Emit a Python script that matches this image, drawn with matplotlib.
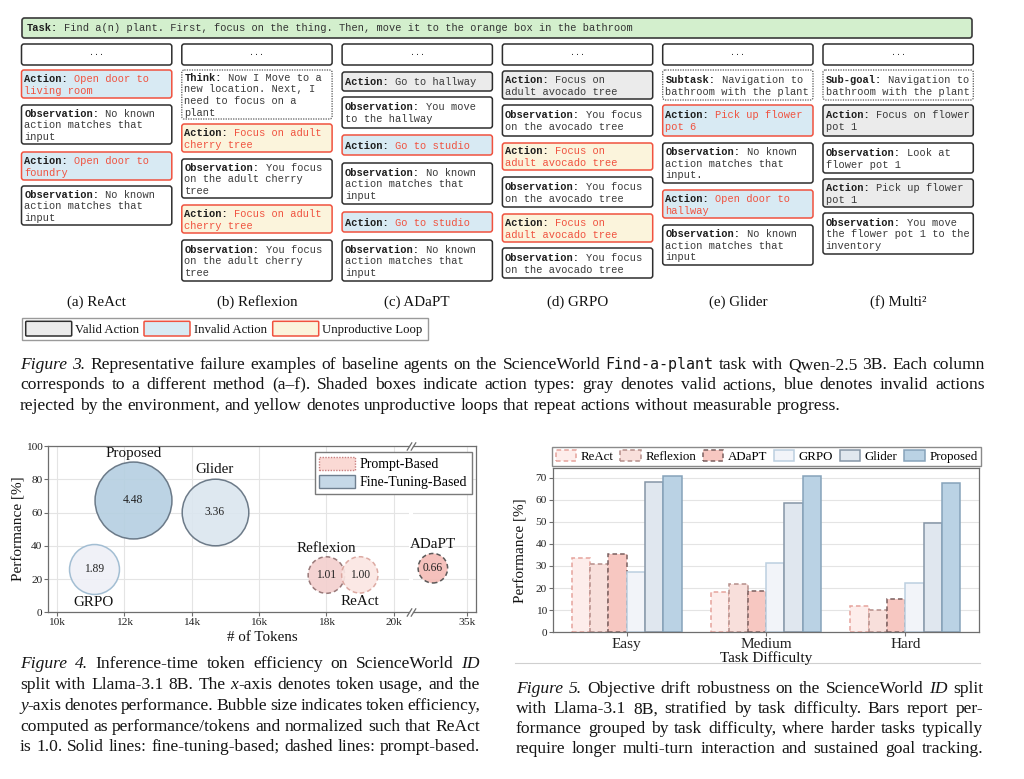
import re
import matplotlib
matplotlib.use('Agg')
import matplotlib.pyplot as plt
import matplotlib.transforms as mtransforms
from matplotlib.patches import FancyBboxPatch, Rectangle, Patch
import numpy as np

plt.rcParams['font.family'] = ['Liberation Serif', 'DejaVu Serif']
plt.rcParams['mathtext.fontset'] = 'stix'

# ---------------- data ----------------
task_text = "Find a(n) plant. First, focus on the thing. Then, move it to the orange box in the bathroom"
column_titles = ["(a) ReAct", "(b) Reflexion", "(c) ADaPT", "(d) GRPO", "(e) Glider", "(f) Multi²"]

no_match = ["No known", "action matches that", "input"]
steps = [
    [("invalid", "Action:", ["Open door to", "living room"]),
     ("obs", "Observation:", no_match),
     ("invalid", "Action:", ["Open door to", "foundry"]),
     ("obs", "Observation:", no_match)],
    [("plan", "Think:", ["Now I Move to a", "new location. Next, I", "need to focus on a", "plant"]),
     ("loop", "Action:", ["Focus on adult", "cherry tree"]),
     ("obs", "Observation:", ["You focus", "on the adult cherry", "tree"]),
     ("loop", "Action:", ["Focus on adult", "cherry tree"]),
     ("obs", "Observation:", ["You focus", "on the adult cherry", "tree"])],
    [("valid", "Action:", ["Go to hallway"]),
     ("obs", "Observation:", ["You move", "to the hallway"]),
     ("invalid", "Action:", ["Go to studio"]),
     ("obs", "Observation:", no_match),
     ("invalid", "Action:", ["Go to studio"]),
     ("obs", "Observation:", no_match)],
    [("valid", "Action:", ["Focus on", "adult avocado tree"]),
     ("obs", "Observation:", ["You focus", "on the avocado tree"]),
     ("loop", "Action:", ["Focus on", "adult avocado tree"]),
     ("obs", "Observation:", ["You focus", "on the avocado tree"]),
     ("loop", "Action:", ["Focus on", "adult avocado tree"]),
     ("obs", "Observation:", ["You focus", "on the avocado tree"])],
    [("plan", "Subtask:", ["Navigation to", "bathroom with the plant"]),
     ("invalid", "Action:", ["Pick up flower", "pot 6"]),
     ("obs", "Observation:", ["No known", "action matches that", "input."]),
     ("invalid", "Action:", ["Open door to", "hallway"]),
     ("obs", "Observation:", no_match)],
    [("plan", "Sub-goal:", ["Navigation to", "bathroom with the plant"]),
     ("valid", "Action:", ["Focus on flower", "pot 1"]),
     ("obs", "Observation:", ["Look at", "flower pot 1"]),
     ("valid", "Action:", ["Pick up flower", "pot 1"]),
     ("obs", "Observation:", ["You move", "the flower pot 1 to the", "inventory"])],
]
legend3_labels = ["Valid Action", "Invalid Action", "Unproductive Loop"]

# figure 4: token efficiency
methods4 = ["Proposed", "Glider", "GRPO", "Reflexion", "ReAct", "ADaPT"]
tokens4 = [12.27, 14.69, 11.10, 18.00, 18.99, 34.0]   # thousands of tokens
perf4 = [67.5, 60.5, 25.9, 22.4, 22.5, 26.5]
eff4 = [4.48, 3.36, 1.89, 1.01, 1.00, 0.66]

# figure 5: performance by difficulty
difficulty = ["Easy", "Medium", "Hard"]
bar_methods = ["ReAct", "Reflexion", "ADaPT", "GRPO", "Glider", "Proposed"]
perf_react = [33.5, 18.1, 12.0]
perf_reflexion = [30.9, 21.9, 9.9]
perf_adapt = [35.6, 18.8, 15.1]
perf_grpo = [27.2, 31.5, 22.2]
perf_glider = [68.2, 58.5, 49.6]
perf_proposed = [70.9, 70.9, 67.4]

caption3 = [
    "*Figure* *3.* Representative failure examples of baseline agents on the ScienceWorld `Find-a-plant` task with Qwen-2.5 3B. Each column",
    "corresponds to a different method (a–f). Shaded boxes indicate action types: gray denotes valid actions, blue denotes invalid actions",
    "rejected by the environment, and yellow denotes unproductive loops that repeat actions without measurable progress.",
]
caption4 = [
    "*Figure* *4.* Inference-time token efficiency on ScienceWorld *ID*",
    "split with Llama-3.1 8B. The *x*-axis denotes token usage, and the",
    "*y*-axis denotes performance. Bubble size indicates token efficiency,",
    "computed as performance/tokens and normalized such that ReAct",
    "is 1.0. Solid lines: fine-tuning-based; dashed lines: prompt-based.",
]
caption5 = [
    "*Figure* *5.* Objective drift robustness on the ScienceWorld *ID* split",
    "with Llama-3.1 8B, stratified by task difficulty. Bars report per-",
    "formance grouped by task difficulty, where harder tasks typically",
    "require longer multi-turn interaction and sustained goal tracking.",
]

# ---------------- page layout (pixels) ----------------
W, H = 1024, 779
fig = plt.figure(figsize=(W / 100, H / 100), dpi=100)
ov = fig.add_axes([0, 0, 1, 1])
ov.set_xlim(0, W)
ov.set_ylim(H, 0)
ov.axis('off')
renderer = fig.canvas.get_renderer()

MONO = 'Liberation Mono'
MONO_SIZE = 7.5
CW = 0.6 * MONO_SIZE * 100 / 72       # character width in px
MONO_BASE = 3.4                       # baseline offset from line centre, px
LINE_H = 11.7
RED = '#f0523f'
DARK = '#2e2e2e'

BOX_STYLE = {
    'valid': dict(fc='#ebebeb', ec=DARK, ls='-', lw=1.1),
    'invalid': dict(fc='#d8eaf3', ec=RED, ls='-', lw=1.1),
    'loop': dict(fc='#fbf4dc', ec=RED, ls='-', lw=1.1),
    'obs': dict(fc='white', ec=DARK, ls='-', lw=1.1),
    'plan': dict(fc='white', ec='#555555', ls=(0, (1, 1)), lw=0.9),
}

COL_X0, COL_STEP, COL_W = 21.5, 160.3, 150.3
box_y = [
    [(70, 98), (105, 144), (152, 180), (186, 225)],
    [(70, 119), (124, 152), (159, 198), (205, 233), (240, 281)],
    [(72, 91), (97, 128), (135, 155), (163, 204), (212, 232), (240, 281)],
    [(71, 99), (105, 136), (143, 170), (177, 207), (214, 242), (248, 278)],
    [(70, 100), (105, 136), (143, 183), (190, 218), (225, 265)],
    [(70, 100), (105, 136), (143, 173), (179, 207), (213, 254)],
]


def rbox(x, top, w, h, fc, ec, ls='-', lw=1.1, r=2.5):
    p = FancyBboxPatch((x, top), w, h, boxstyle=f"round,pad=0,rounding_size={r}",
                       fc=fc, ec=ec, ls=ls, lw=lw)
    ov.add_patch(p)


def mono(x, y, s, color, bold=False):
    ov.text(x, y + MONO_BASE, s, family=MONO, weight='bold' if bold else 'normal',
            fontsize=MONO_SIZE, va='baseline', color=color)


# task bar
rbox(22, 18, 950, 20, '#d3efcd', '#3a3a3a', lw=1.2)
mono(27, 28, "Task:", '#1e1e1e', bold=True)
mono(27 + 6 * CW, 28, task_text, '#333333')

for c in range(6):
    x = COL_X0 + c * COL_STEP
    rbox(x, 44, COL_W, 21, 'white', DARK)
    ov.text(x + COL_W / 2, 53.5, "...", family=MONO, fontsize=6, ha='center', va='center', color='#333')
    for (kind, label, lines), (top, bot) in zip(steps[c], box_y[c]):
        st = BOX_STYLE[kind]
        rbox(x, top, COL_W, bot - top, st['fc'], st['ec'], st['ls'], st['lw'])
        color = RED if kind in ('invalid', 'loop') else '#3a3a3a'
        mid = (top + bot) / 2
        n = len(lines)
        for i, ln in enumerate(lines):
            yy = mid + (i - (n - 1) / 2) * LINE_H + 0.3
            if i == 0:
                mono(x + 2.7, yy, label, '#1e1e1e', bold=True)
                mono(x + 2.7 + (len(label) + 1) * CW, yy, ln, color)
            else:
                mono(x + 2.7, yy, ln, color)
    ov.text(x + COL_W / 2, 306, column_titles[c], fontsize=10.8, ha='center', va='baseline', color='#111')

# figure 3 legend
ov.add_patch(Rectangle((21.7, 317.7), 406, 22, fc='white', ec='#9a9a9a', lw=1.0))
leg3_style = [BOX_STYLE['valid'], BOX_STYLE['invalid'], BOX_STYLE['loop']]
leg3_x = [25.7, 144.0, 272.7]
for lx, st, lab in zip(leg3_x, leg3_style, legend3_labels):
    rbox(lx, 321.3, 46, 14.7, st['fc'], st['ec'], lw=1.1, r=1)
    ov.text(lx + 49.5, 333, lab, fontsize=9.2, va='baseline', color='#111')

# ---------------- justified captions ----------------
FONTS = {'n': dict(family='Liberation Serif'),
         'i': dict(family='Liberation Serif', style='italic'),
         'm': dict(family='DejaVu Sans Mono')}


def parse_word(word):
    segs = []
    for part in re.split(r'(\*[^*]+\*|`[^`]+`)', word):
        if not part:
            continue
        if part.startswith('*'):
            segs.append((part[1:-1], 'i'))
        elif part.startswith('`'):
            segs.append((part[1:-1], 'm'))
        else:
            segs.append((part, 'n'))
    return segs


def caption(lines, x0, x1, y0, dy, size, justify_last=False):
    base = 0.3 * size * 100 / 72
    for k, line in enumerate(lines):
        y = y0 + k * dy + base
        words = []
        for w in line.split(' '):
            arts, tot = [], 0.0
            for txt, st in parse_word(w):
                fs = size * 0.86 if st == 'm' else size
                t = ov.text(0, y, txt, fontsize=fs, va='baseline', ha='left', color='#151515', **FONTS[st])
                tw = t.get_window_extent(renderer).width
                arts.append((t, tw))
                tot += tw
            words.append((arts, tot))
        natural_gap = 0.25 * size * 100 / 72
        is_last = k == len(lines) - 1
        if (not is_last or justify_last) and len(words) > 1:
            gap = (x1 - x0 - sum(t for _, t in words)) / (len(words) - 1)
        else:
            gap = natural_gap
        x = x0
        for arts, tot in words:
            xx = x
            for t, tw in arts:
                t.set_x(xx)
                xx += tw
            x += tot + gap


CAP_SIZE = 12.6
caption(caption3, 20, 985, 364, 20.2, CAP_SIZE)
caption(caption4, 20, 480, 663, 20.8, CAP_SIZE, justify_last=True)
caption(caption5, 516, 983, 688, 20.0, CAP_SIZE, justify_last=True)
ov.plot([515, 980], [663, 663], color='#cfcfcf', lw=0.8)


# ---------------- helper for chart axes ----------------
def px_axes(x0, y0, x1, y1):
    return fig.add_axes([x0 / W, 1 - y1 / H, (x1 - x0) / W, (y1 - y0) / H])


SPINE = '#6e6e6e'
GRID = '#e4e4e4'


def style_axes(ax):
    for s in ax.spines.values():
        s.set_color(SPINE)
        s.set_linewidth(0.9)
    ax.grid(True, color=GRID, lw=0.8)
    ax.set_axisbelow(True)
    ax.tick_params(length=3, width=0.8, color=SPINE, labelsize=8.2, pad=1.2, labelcolor='#222')


# ---------------- figure 4: bubble chart with broken x axis ----------------
ax4l = px_axes(48.3, 446, 409, 612.3)
ax4r = px_axes(413, 446, 476, 612.3)
for ax in (ax4l, ax4r):
    style_axes(ax)
    ax.set_ylim(0, 100)
    ax.set_yticks(range(0, 101, 20))
ax4l.set_xlim(9.75, 20.45)
ax4r.set_xlim(33.41, 35.28)
ax4l.set_xticks([10, 12, 14, 16, 18, 20])
ax4l.set_xticklabels([f"{v}k" for v in [10, 12, 14, 16, 18, 20]])
ax4r.set_xticks([35])
ax4r.set_xticklabels(["35k"])
ax4l.spines['right'].set_visible(False)
ax4r.spines['left'].set_visible(False)
ax4r.tick_params(left=False, labelleft=False)
ax4l.set_ylabel("Performance [%]", fontsize=11, color='#111')
ax4l.yaxis.set_label_coords(-0.064, 0.5)

bubble_style = {
    "Proposed": dict(fc='#b5cfe1', ec='#5f6e7d', ls='-', side=1),
    "Glider": dict(fc='#dbe6ef', ec='#5f6e7d', ls='-', side=1),
    "GRPO": dict(fc='#eff0f7', ec='#9ab8cf', ls='-', side=-1),
    "Reflexion": dict(fc='#f3cfce', ec='#8f6e6e', ls=(0, (3, 2)), side=1),
    "ReAct": dict(fc='#fbe6e3', ec='#d9a29a', ls=(0, (3, 2)), side=-1),
    "ADaPT": dict(fc='#f4bbb5', ec='#4a4a4a', ls=(0, (3, 2)), side=1),
}
AREA_PX = 330.0   # bubble area (px^2 / pi) per unit of efficiency
for m, tk, pf, ef in zip(methods4, tokens4, perf4, eff4):
    ax = ax4r if tk > 25 else ax4l
    st = bubble_style[m]
    r_px = np.sqrt(AREA_PX * ef)
    d_pt = 2 * r_px * 72 / 100
    ax.scatter([tk], [pf], s=d_pt ** 2, facecolor=st['fc'], edgecolor=st['ec'],
               linewidth=1.1, linestyle=st['ls'], alpha=0.9, zorder=3, clip_on=False)
    ax.text(tk, pf, f"{ef:.2f}", fontsize=8.3, ha='center', va='center', color='#222', zorder=4)
    off = mtransforms.offset_copy(ax.transData, fig=fig, x=0, y=st['side'] * (r_px + 8.5), units='dots')
    ax.text(tk, pf, m, transform=off, fontsize=10.8, ha='center', va='center', color='#111', zorder=4)

# break marks
bk = dict(marker=[(-1, -1.6), (1, 1.6)], markersize=6, linestyle='none', color=SPINE,
          mec=SPINE, mew=0.9, clip_on=False)
ax4l.plot([1, 1], [0, 1], transform=ax4l.transAxes, **bk)
ax4r.plot([0, 0], [0, 1], transform=ax4r.transAxes, **bk)
ov.text(262, 641, "# of Tokens", fontsize=10.8, ha='center', va='baseline', color='#111')

leg4 = [Patch(fc='#fad9d4', ec='#c98080', ls=(0, (1, 1)), lw=1.0, label='Prompt-Based'),
        Patch(fc='#c5d8e7', ec='#6f7f8f', lw=1.0, label='Fine-Tuning-Based')]
fig.legend(handles=leg4, loc='upper right', bbox_to_anchor=(472 / W, 1 - 452 / H), fontsize=10,
           fancybox=False, edgecolor='#7a7a7a', framealpha=1, borderpad=0.35, labelspacing=0.3,
           handlelength=2.6, handleheight=1.05, handletextpad=0.3, borderaxespad=0)

# ---------------- figure 5: grouped bars ----------------
ax5 = px_axes(552.7, 468.3, 979.3, 632.3)
style_axes(ax5)
ax5.grid(axis='x', visible=False)
ax5.set_ylim(0, 74.2)
ax5.set_xlim(-0.53, 2.53)
ax5.set_yticks(range(0, 71, 10))
ax5.set_xticks(range(len(difficulty)))
ax5.set_xticklabels(difficulty, fontsize=11)
ax5.tick_params(axis='x', pad=1)
ax5.set_ylabel("Performance [%]", fontsize=11, color='#111')
ax5.yaxis.set_label_coords(-0.058, 0.5)

bar_values = [perf_react, perf_reflexion, perf_adapt, perf_grpo, perf_glider, perf_proposed]
bar_styles = [
    dict(fc='#fdedeb', ec='#e6a39c', ls=(0, (3, 2))),
    dict(fc='#f8dfdb', ec='#b58e8a', ls=(0, (3, 2))),
    dict(fc='#f7c7c1', ec='#7a5f5f', ls=(0, (3, 2))),
    dict(fc='#f2f4f9', ec='#bccfe0', ls='-'),
    dict(fc='#e0e7ef', ec='#8595a6', ls='-'),
    dict(fc='#bad2e4', ec='#86a3ba', ls='-'),
]
x5 = np.arange(len(difficulty))
bw = 0.1316
for i, (name, vals, st) in enumerate(zip(bar_methods, bar_values, bar_styles)):
    ax5.bar(x5 + (i - 2.5) * bw, vals, bw, facecolor=st['fc'], edgecolor=st['ec'],
            linestyle=st['ls'], linewidth=1.1, label=name, zorder=2)
ov.text(766, 662, "Task Difficulty", fontsize=11, ha='center', va='baseline', color='#111')
h5, l5 = ax5.get_legend_handles_labels()
fig.legend(h5, l5, loc='center', bbox_to_anchor=(766.5 / W, 1 - 456.5 / H), ncol=6, fontsize=9.3,
           fancybox=False, edgecolor='#8a8a8a', framealpha=1, borderpad=0.25, handlelength=1.6,
           handleheight=0.9, handletextpad=0.35, columnspacing=0.5, borderaxespad=0)

fig.savefig('out.png', dpi=100, facecolor='white')
